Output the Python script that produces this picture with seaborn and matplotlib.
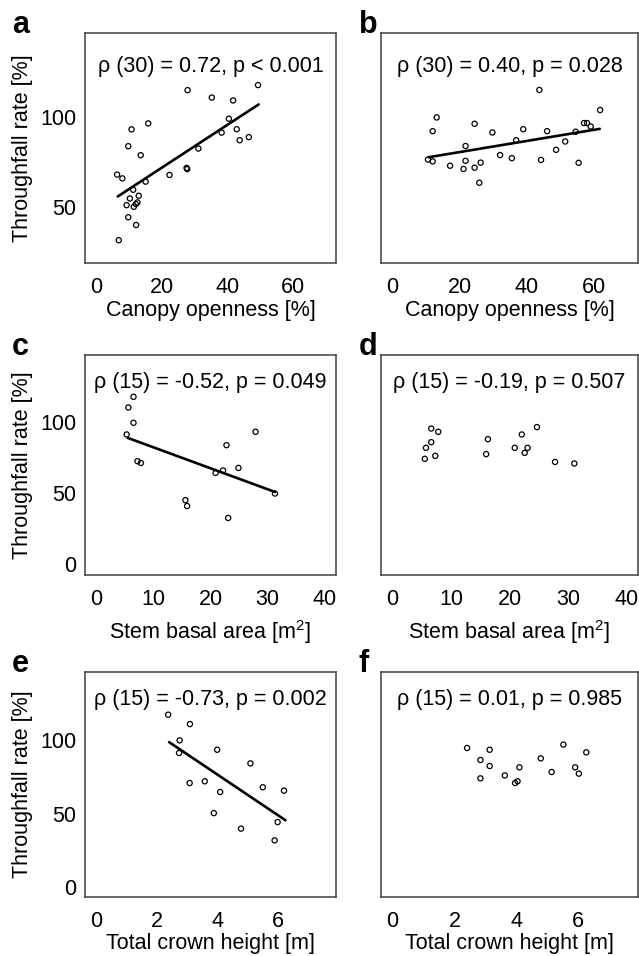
import pandas as pd
import seaborn as sns
import matplotlib.pyplot as plt

sns.set_style("white")
plt.rcParams["font.family"] = ["Liberation Sans", "DejaVu Sans"]
plt.rcParams["mathtext.fontset"] = "custom"
plt.rcParams["mathtext.rm"] = "Liberation Sans"
plt.rcParams["text.color"] = "black"
plt.rcParams["axes.labelcolor"] = "black"
plt.rcParams["xtick.labelcolor"] = "black"
plt.rcParams["ytick.labelcolor"] = "black"

# canopy openness vs throughfall, left and right column
open_a = [6.4, 8.0, 6.9, 10.8, 9.8, 13.6, 15.9, 15.1, 11.3, 10.3, 13.0, 9.3, 12.1, 11.5, 12.6,
          9.8, 12.2, 22.4, 27.9, 27.6, 27.8, 31.2, 35.3, 38.3, 40.5, 41.8, 42.9, 43.8, 46.6, 49.4]
tf_a = [68.2, 66.1, 31.9, 93.2, 83.9, 78.9, 96.5, 64.3, 59.8, 55.0, 56.5, 51.3, 51.9, 50.4, 52.8,
        44.6, 40.3, 68.0, 114.9, 71.9, 71.2, 82.6, 110.8, 91.4, 99.1, 109.2, 93.3, 87.2, 88.9, 117.7]
fit_a_x = [6.6, 49.6]
fit_a_y = [56.1, 107.0]

open_b = [10.6, 12.0, 13.2, 12.0, 17.2, 21.2, 21.8, 21.8, 24.5, 24.5, 26.3, 25.9, 29.8, 32.1,
          35.6, 36.9, 39.0, 43.8, 44.3, 46.1, 48.8, 51.5, 54.6, 55.5, 57.1, 58.0, 59.1, 61.9]
tf_b = [76.5, 75.5, 99.8, 92.2, 73.1, 71.3, 75.8, 84.0, 96.3, 72.0, 74.8, 63.7, 91.5, 79.0,
        77.3, 87.2, 93.3, 115.0, 76.3, 92.2, 81.9, 86.5, 91.9, 74.7, 96.7, 96.7, 94.8, 103.9]
fit_b_x = [10.8, 61.8]
fit_b_y = [77.8, 93.5]

# stem basal area
basal_c = [6.5, 5.6, 6.5, 5.3, 7.2, 7.8, 15.6, 15.9, 20.9, 22.2, 22.8, 24.9, 23.1, 27.9, 31.3]
tf_c = [117.6, 110.1, 99.3, 91.1, 72.3, 71.1, 44.9, 40.8, 64.1, 65.8, 83.6, 67.6, 32.4, 93.0, 49.6]
fit_c_x = [5.5, 31.3]
fit_c_y = [88.7, 50.7]

basal_d = [6.6, 7.8, 6.6, 5.7, 5.5, 7.3, 16.3, 16.0, 20.9, 22.1, 23.1, 22.6, 24.7, 27.8, 31.1]
tf_d = [95.3, 93.0, 85.7, 81.7, 74.0, 76.1, 87.8, 77.3, 81.7, 91.1, 81.7, 78.2, 96.3, 71.8, 70.7]

# total crown height
crown_e = [2.38, 3.10, 2.76, 2.74, 4.0, 3.09, 3.59, 4.10, 3.89, 5.10, 5.51, 6.21, 4.79, 6.0, 5.9]
tf_e = [117.5, 111.1, 100.0, 91.4, 93.6, 70.9, 72.1, 64.8, 50.4, 84.3, 68.0, 65.7, 39.8, 44.3, 31.8]
fit_e_x = [2.41, 6.26]
fit_e_y = [98.8, 45.5]

crown_f = [2.41, 3.14, 2.84, 3.14, 2.84, 3.63, 3.96, 4.04, 4.10, 4.79, 5.14, 5.52, 5.90, 6.02, 6.26]
tf_f = [94.8, 93.6, 86.6, 82.5, 74.1, 76.1, 70.9, 72.1, 81.6, 87.7, 78.4, 97.1, 81.6, 77.3, 91.8]

stats = ["\u03c1 (30) = 0.72, p < 0.001", "\u03c1 (30) = 0.40, p = 0.028",
         "\u03c1 (15) = -0.52, p = 0.049", "\u03c1 (15) = -0.19, p = 0.507",
         "\u03c1 (15) = -0.73, p = 0.002", "\u03c1 (15) = 0.01, p = 0.985"]
letters = ["a", "b", "c", "d", "e", "f"]
xlabels = ["Canopy openness [%]", "Stem basal area [m$^\\mathregular{2}$]", "Total crown height [m]"]
xticks = [[0, 20, 40, 60], [0, 10, 20, 30, 40], [0, 2, 4, 6]]
yticks = [[50, 100], [0, 50, 100], [0, 50, 100]]
xlims = [(-3.4, 73.2), (-2.0, 42.0), (-0.37, 7.93)]
ylims = [(19.3, 146.5), (-7.7, 147.0), (-6.8, 146.6)]

panels = [
    (open_a, tf_a, fit_a_x, fit_a_y),
    (open_b, tf_b, fit_b_x, fit_b_y),
    (basal_c, tf_c, fit_c_x, fit_c_y),
    (basal_d, tf_d, None, None),
    (crown_e, tf_e, fit_e_x, fit_e_y),
    (crown_f, tf_f, None, None),
]

W, H = 639, 956
fig = plt.figure(figsize=(W / 100, H / 100), dpi=100)

cols = [(85, 251), (381, 257)]          # left px, width px
rows = [(33, 263), (355, 575), (672, 897)]  # top px, bottom px
xlab_y = [-0.161, -0.195, -0.161]

spine_col = "#404040"
fs = 15.5

for idx, (x, y, fx, fy) in enumerate(panels):
    r, c = idx // 2, idx % 2
    left, width = cols[c]
    top, bottom = rows[r]
    ax = fig.add_axes([left / W, 1 - bottom / H, width / W, (bottom - top) / H])

    df = pd.DataFrame({"x": x, "y": y})
    sns.scatterplot(data=df, x="x", y="y", ax=ax, marker="o", s=14,
                    facecolor="none", edgecolor="black", linewidth=0.9)
    if fx is not None:
        fit = pd.DataFrame({"x": fx, "y": fy})
        sns.lineplot(data=fit, x="x", y="y", ax=ax, color="black", linewidth=1.9)

    ax.set_xlim(xlims[r])
    ax.set_ylim(ylims[r])
    ax.set_xticks(xticks[r])
    ax.set_yticks(yticks[r])
    ax.tick_params(direction="out", length=4, width=1, color=spine_col,
                   labelsize=fs, labelcolor="black", pad=2)
    ax.tick_params(axis="x", pad=6)
    for sp in ax.spines.values():
        sp.set_color(spine_col)
        sp.set_linewidth(1.1)

    ax.set_xlabel(xlabels[r], fontsize=fs, color="black")
    ax.xaxis.set_label_coords(0.5, xlab_y[r])
    if c == 0:
        ax.set_ylabel("Throughfall rate [%]", fontsize=fs, color="black")
        ax.yaxis.set_label_coords(-0.207, 0.5)
    else:
        ax.set_ylabel("")
        ax.set_yticklabels([])

    ax.text(sum(xlims[r]) / 2, 128, stats[idx], ha="center", va="center",
            fontsize=fs, color="black")
    lx = (12 - left) / width if c == 0 else (359 - left) / width
    ax.text(lx, 1.002, letters[idx], transform=ax.transAxes, fontsize=22,
            fontweight="bold", ha="left", va="baseline", color="black")

fig.savefig("out.png", dpi=100)
